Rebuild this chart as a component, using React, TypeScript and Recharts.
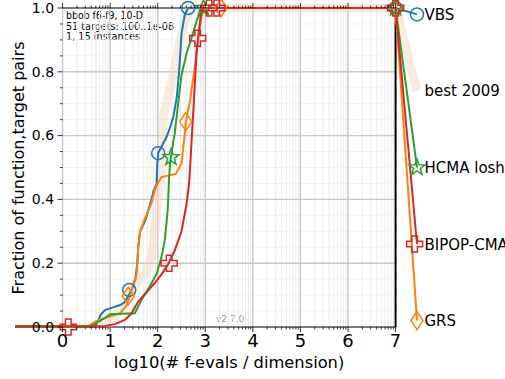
import {
  ComposedChart,
  Line,
  ReferenceLine,
  Scatter,
  XAxis,
  YAxis,
} from 'recharts'

type Pt = { x: number; y: number }
const pts = (rows: number[][]): Pt[] => rows.map(([x, y]) => ({ x, y }))

// ECDF curves (x = log10(#f-evals / dim), y = fraction)
const best2009 = pts([
  [0.9, 0], [1.1, 0.03], [1.38, 0.1], [1.6, 0.145], [1.75, 0.17], [1.87, 0.22],
  [1.94, 0.3], [1.98, 0.37], [2.05, 0.44], [2.08, 0.5], [2.1, 0.6], [2.13, 0.67],
  [2.3, 0.77], [2.43, 0.87], [2.57, 0.96], [2.68, 1], [7, 1], [7.45, 0.74],
])
const vbs = pts([
  [-1, 0], [0.68, 0], [0.75, 0.02], [0.8, 0.038], [0.89, 0.053], [1.03, 0.06],
  [1.21, 0.069], [1.3, 0.077], [1.36, 0.092], [1.45, 0.116], [1.53, 0.15],
  [1.57, 0.2], [1.59, 0.25], [1.63, 0.3], [1.73, 0.33], [1.77, 0.35], [1.87, 0.4],
  [1.91, 0.425], [1.98, 0.45], [1.99, 0.51], [2.01, 0.545], [2.19, 0.597],
  [2.27, 0.63], [2.33, 0.66], [2.4, 0.72], [2.45, 0.8], [2.5, 0.92], [2.57, 0.98],
  [2.64, 1], [7, 1], [7.45, 0.98],
])
const grs = pts([
  [-1, 0.003], [0.55, 0.003], [0.68, 0.017], [0.96, 0.032], [1.21, 0.043],
  [1.35, 0.069], [1.45, 0.116], [1.56, 0.168], [1.59, 0.25], [1.63, 0.3],
  [1.73, 0.34], [1.87, 0.388], [1.94, 0.43], [2.0, 0.45], [2.08, 0.47],
  [2.38, 0.48], [2.5, 0.513], [2.57, 0.607], [2.59, 0.644], [2.68, 0.71],
  [2.78, 0.816], [2.85, 0.9], [2.92, 0.973], [2.99, 1], [7, 1], [7.45, 0.02],
])
const hcma = pts([
  [-1, 0], [0.55, 0], [0.68, 0.01], [0.89, 0.028], [1.0, 0.04], [1.52, 0.043],
  [1.66, 0.085], [1.87, 0.137], [1.98, 0.168], [2.08, 0.22], [2.15, 0.273],
  [2.21, 0.367], [2.24, 0.47], [2.26, 0.515], [2.29, 0.545], [2.36, 0.61],
  [2.43, 0.7], [2.5, 0.79], [2.61, 0.86], [2.72, 0.91], [2.83, 0.965],
  [2.92, 0.99], [2.97, 1], [7, 1], [7.45, 0.5],
])
const bipop = pts([
  [-1, 0.002], [0.85, 0.002], [1.1, 0.009], [1.31, 0.022], [1.45, 0.043],
  [1.59, 0.08], [1.8, 0.115], [1.95, 0.14], [2.08, 0.165], [2.22, 0.197],
  [2.36, 0.241], [2.5, 0.3], [2.6, 0.38], [2.66, 0.45], [2.7, 0.55],
  [2.73, 0.63], [2.78, 0.76], [2.82, 0.87], [2.89, 0.96], [2.93, 1], [7, 1],
  [7.45, 0.26],
])

// marker positions along each curve
const vbsMarks = pts([[1.4, 0.116], [2.01, 0.545], [2.64, 1], [7, 1], [7.45, 0.98]])
const grsMarks = pts([[1.38, 0.097], [2.59, 0.644], [3.33, 1], [7, 1], [7.45, 0.02]])
const hcmaMarks = pts([[2.28, 0.532], [2.96, 1], [7, 1], [7.45, 0.5]])
const bipopMarks = pts([[0.12, 0], [2.24, 0.2], [2.84, 0.905], [3.08, 1], [3.24, 1], [7, 1], [7.4, 0.26]])

const endLabels = [
  { x: 7.45, y: 0.98, name: 'VBS' },
  { x: 7.45, y: 0.74, name: 'best 2009' },
  { x: 7.45, y: 0.5, name: 'HCMA losh' },
  { x: 7.45, y: 0.26, name: 'BIPOP-CMA' },
  { x: 7.45, y: 0.02, name: 'GRS' },
]

const xMajor = [0, 1, 2, 3, 4, 5, 6, 7]
const xMinor = xMajor.slice(0, 7).flatMap((d) =>
  [2, 3, 4, 5, 6, 7, 8, 9].map((k) => d + Math.log10(k)),
)
const yMajor = [0, 0.2, 0.4, 0.6, 0.8, 1]
const yMinor = Array.from({ length: 21 }, (_, i) => i / 20)

// info box text, with the width each line takes in the reference
const infoLines = ['bbob f6-f9, 10-D', '51 targets: 100..1e-08', '1, 15 instances']
const infoWidths = [77, 108, 74]

const FONT = 'DejaVu Sans, sans-serif'
const W = 505
const H = 379
const TOP = 8
const BOTTOM = 327
const LEFT = 15
const X_DOMAIN = [-1, 9.3]
const X0 = LEFT + ((0 - X_DOMAIN[0]) / (X_DOMAIN[1] - X_DOMAIN[0])) * (W - LEFT)

const XTick = ({ x, payload }: any) => {
  const major = Number.isInteger(payload.value)
  const len = major ? 5 : 2.5
  return (
    <g>
      <line x1={x} x2={x} y1={BOTTOM} y2={BOTTOM + len} stroke="#000" strokeWidth={0.8} />
      <line x1={x} x2={x} y1={TOP} y2={TOP - len} stroke="#000" strokeWidth={0.8} />
      {major && (
        <text x={x} y={346.5} textAnchor="middle" fontSize={18} fontFamily={FONT} fill="#000">
          {payload.value}
        </text>
      )}
    </g>
  )
}

const YTick = ({ y, payload }: any) => {
  const v = payload.value
  const major = Math.abs(v * 5 - Math.round(v * 5)) < 1e-6
  const len = major ? 5 : 2.5
  return (
    <g>
      <line x1={X0 - len} x2={X0} y1={y} y2={y} stroke="#000" strokeWidth={0.8} />
      {major && (
        <text x={X0 - 8.5} y={y + 4.8} textAnchor="end" fontSize={14} fontFamily={FONT} fill="#000">
          {v.toFixed(1)}
        </text>
      )}
    </g>
  )
}

const circle = (color: string) => (p: any) => (
  <circle cx={p.cx} cy={p.cy} r={6.5} fill="none" stroke={color} strokeWidth={1.5} />
)

const star = (color: string) => (p: any) => {
  const d = Array.from({ length: 10 }, (_, i) => {
    const r = i % 2 === 0 ? 8.5 : 3.5
    const a = (Math.PI / 5) * i - Math.PI / 2
    return `${p.cx + r * Math.cos(a)},${p.cy + r * Math.sin(a)}`
  }).join(' ')
  return <polygon points={d} fill="none" stroke={color} strokeWidth={1.5} />
}

const plus = (color: string) => (p: any) => {
  const a = 8
  const b = 2.8
  const { cx, cy } = p
  const d = [
    [-b, -a], [b, -a], [b, -b], [a, -b], [a, b], [b, b],
    [b, a], [-b, a], [-b, b], [-a, b], [-a, -b], [-b, -b],
  ]
    .map(([dx, dy]) => `${cx + dx},${cy + dy}`)
    .join(' ')
  return <polygon points={d} fill="none" stroke={color} strokeWidth={1.5} />
}

const diamond = (color: string) => (p: any) => {
  const { cx, cy } = p
  const d = `${cx},${cy - 9} ${cx + 6},${cy} ${cx},${cy + 9} ${cx - 6},${cy}`
  return <polygon points={d} fill="none" stroke={color} strokeWidth={1.5} />
}

const endLabel = (p: any) => (
  <text x={p.cx + 7.5} y={p.cy + 5.5} fontSize={15} fontFamily={FONT} fill="#000">
    {p.payload.name}
  </text>
)

const gray = '#c8c8c8'

export default function App() {
  return (
    <div style={{ position: 'absolute', left: 0, top: 0, background: '#fff' }}>
      <ComposedChart width={W} height={H} margin={{ top: TOP, right: 0, bottom: 0, left: 0 }}>
        <XAxis
          type="number"
          dataKey="x"
          domain={X_DOMAIN}
          ticks={[...xMajor, ...xMinor]}
          interval={0}
          tick={<XTick />}
          tickLine={false}
          axisLine={false}
          height={H - BOTTOM}
        />
        <YAxis
          type="number"
          dataKey="y"
          domain={[0, 1]}
          ticks={yMinor}
          interval={0}
          tick={<YTick />}
          tickLine={false}
          axisLine={false}
          width={LEFT}
        />
        {xMinor.map((v) => (
          <ReferenceLine key={`xm${v}`} x={v} stroke="#ececec" strokeWidth={1} />
        ))}
        {yMinor.map((v) => (
          <ReferenceLine key={`ym${v}`} segment={[{ x: 0, y: v }, { x: 7, y: v }]} stroke="#f2f2f2" strokeWidth={1} />
        ))}
        {xMajor.slice(0, 7).map((v) => (
          <ReferenceLine key={`xM${v}`} x={v} stroke={gray} strokeWidth={1.4} />
        ))}
        {yMajor.slice(1, 5).map((v) => (
          <ReferenceLine key={`yM${v}`} segment={[{ x: 0, y: v }, { x: 7, y: v }]} stroke={gray} strokeWidth={1.4} />
        ))}
        <ReferenceLine segment={[{ x: 0, y: 0 }, { x: 7, y: 0 }]} stroke="#000" strokeWidth={1} />
        <ReferenceLine segment={[{ x: 0, y: 1 }, { x: 7, y: 1 }]} stroke="#000" strokeWidth={1} />
        <ReferenceLine segment={[{ x: 7, y: 0 }, { x: 7, y: 1 }]} stroke="#000" strokeWidth={2} />

        <Line data={best2009} dataKey="y" stroke="#f0d5bd" strokeOpacity={0.45} strokeWidth={9} dot={false} isAnimationActive={false} />
        <Line data={vbs} dataKey="y" stroke="#1f77b4" strokeWidth={2} dot={false} isAnimationActive={false} />
        <Line data={grs} dataKey="y" stroke="#ff7f0e" strokeWidth={2} dot={false} isAnimationActive={false} />
        <Line data={hcma} dataKey="y" stroke="#2ca02c" strokeWidth={2} dot={false} isAnimationActive={false} />
        <Line data={bipop} dataKey="y" stroke="#d62728" strokeWidth={2} dot={false} isAnimationActive={false} />

        <Scatter data={vbsMarks} shape={circle('#1f77b4')} isAnimationActive={false} />
        <Scatter data={grsMarks} shape={diamond('#ff7f0e')} isAnimationActive={false} />
        <Scatter data={hcmaMarks} shape={star('#2ca02c')} isAnimationActive={false} />
        <Scatter data={bipopMarks} shape={plus('#d62728')} isAnimationActive={false} />
        <Scatter data={endLabels} shape={endLabel} isAnimationActive={false} />

        {infoLines.map((t, i) => (
          <text
            key={t}
            x={66}
            y={18.7 + i * 10.8}
            fontSize={9.6}
            fontFamily={FONT}
            fill="#000"
            textLength={infoWidths[i]}
            lengthAdjust="spacingAndGlyphs"
          >
            {t}
          </text>
        ))}
        <text x={216} y={322} fontSize={9} fontFamily={FONT} fill="#999">
          v2.7.0
        </text>
        <text x={229} y={368} textAnchor="middle" fontSize={16.3} fontFamily={FONT} fill="#000">
          log10(# f-evals / dimension)
        </text>
        <text
          x={24}
          y={168}
          transform="rotate(-90 24 168)"
          textAnchor="middle"
          fontSize={16}
          fontFamily={FONT}
          fill="#000"
        >
          Fraction of function,target pairs
        </text>
      </ComposedChart>
    </div>
  )
}
